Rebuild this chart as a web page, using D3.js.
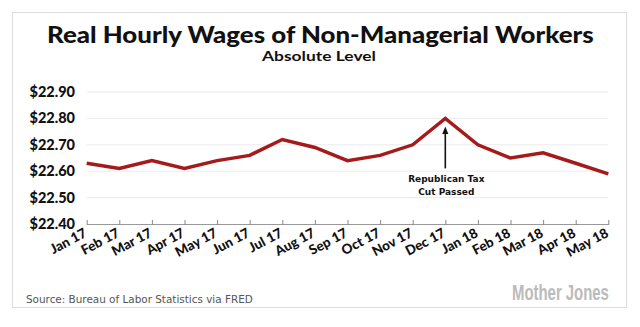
<html>
<head>
    <script src="https://cdn.jsdelivr.net/npm/d3@7/dist/d3.min.js" charset="utf-8"></script>
    <style>
        body { margin: 0; background: #fff; }
    </style>
</head>
<body>
    <script type="text/javascript">
        var width = 640;
        var height = 327;

        // Monthly real hourly wages, Jan 2017 - May 2018
        const months = ["Jan 17", "Feb 17", "Mar 17", "Apr 17", "May 17", "Jun 17", "Jul 17", "Aug 17",
            "Sep 17", "Oct 17", "Nov 17", "Dec 17", "Jan 18", "Feb 18", "Mar 18", "Apr 18", "May 18"];
        const wages = [22.63, 22.61, 22.64, 22.61, 22.64, 22.66, 22.72, 22.69,
            22.64, 22.66, 22.70, 22.80, 22.70, 22.65, 22.67, 22.63, 22.59];
        const yTicks = [22.40, 22.50, 22.60, 22.70, 22.80, 22.90];
        const noteMonth = "Dec 17";
        const noteLines = ["Republican Tax", "Cut Passed"];

        var margin = { top: 92, right: 32, bottom: 103, left: 87 };

        const svg = d3.select("body").append("svg")
            .attr("width", width)
            .attr("height", height);

        // outer frame
        svg.append("rect")
            .attr("x", 12.5).attr("y", 12.5)
            .attr("width", 614).attr("height", 295)
            .attr("fill", "none")
            .attr("stroke", "#dcdcdc");

        const xScale = d3.scalePoint()
            .domain(months)
            .range([margin.left - 0.3, width - margin.right + 0.3]);

        const yScale = d3.scaleLinear()
            .domain([22.40, 22.90])
            .range([height - margin.bottom, margin.top]);

        // stretch/squeeze a text horizontally so it spans `w` pixels from x
        function fitText(sel, x, y, w) {
            const natural = sel.node().getComputedTextLength();
            sel.attr("transform", `translate(${x},${y}) scale(${w / natural},1)`);
            return sel;
        }

        // Title
        fitText(svg.append("text")
            .style("font-family", "Lato")
            .style("font-weight", 900)
            .style("font-size", "23px")
            .attr("fill", "#111")
            .text("Real Hourly Wages of Non-Managerial Workers"), 47, 42.5, 547);

        fitText(svg.append("text")
            .style("font-family", "Lato")
            .style("font-weight", 700)
            .style("font-size", "13.5px")
            .attr("fill", "#111")
            .text("Absolute Level"), 262, 60.5, 114);

        // Gridlines
        svg.append("g")
            .selectAll("line")
            .data(yTicks.slice(1))
            .join("line")
                .attr("x1", xScale.range()[0])
                .attr("x2", xScale.range()[1])
                .attr("y1", d => yScale(d))
                .attr("y2", d => yScale(d))
                .attr("stroke", "#ebebeb")
                .attr("stroke-width", 1);

        // Y axis labels
        svg.append("g")
            .selectAll("text")
            .data(yTicks)
            .join("text")
                .attr("x", 75)
                .attr("y", d => yScale(d) + 5)
                .attr("text-anchor", "end")
                .style("font-family", "Lato")
                .style("font-weight", 900)
                .style("font-size", "14.5px")
                .attr("fill", "#111")
                .text(d => "$" + d.toFixed(2));

        // X axis
        const xAxis = svg.append("g")
            .attr("transform", `translate(0,${yScale(22.40)})`)
            .call(d3.axisBottom(xScale).tickSize(0).tickFormat(""));
        xAxis.select(".domain").attr("stroke", "#999");
        xAxis.selectAll(".tick line")
            .attr("y1", -4).attr("y2", 1)
            .attr("stroke", "#888");

        svg.append("g")
            .selectAll("text")
            .data(months)
            .join("text")
                .attr("transform", d => `translate(${xScale(d) + 1},${yScale(22.40) + 12}) rotate(-28)`)
                .attr("text-anchor", "end")
                .style("font-family", "Lato")
                .style("font-weight", 900)
                .style("font-size", "13.5px")
                .attr("fill", "#111")
                .text(d => d);

        // Wage line
        const line = d3.line()
            .x((d, i) => xScale(months[i]))
            .y(d => yScale(d));

        svg.append("path")
            .datum(wages)
            .attr("d", line)
            .attr("fill", "none")
            .attr("stroke", "#a51b1b")
            .attr("stroke-width", 3.5)
            .attr("stroke-linejoin", "miter");

        // Annotation arrow
        svg.append("defs").append("marker")
            .attr("id", "arrow")
            .attr("viewBox", "0 0 10 10")
            .attr("refX", 5).attr("refY", 5)
            .attr("markerWidth", 5).attr("markerHeight", 6)
            .attr("orient", "auto")
            .append("path")
                .attr("d", "M0,1 L10,5 L0,9 Z")
                .attr("fill", "#111");

        const nx = xScale(noteMonth);
        const ny = yScale(wages[months.indexOf(noteMonth)]);
        svg.append("line")
            .attr("x1", nx).attr("x2", nx)
            .attr("y1", ny + 50).attr("y2", ny + 12)
            .attr("stroke", "#111")
            .attr("stroke-width", 1.6)
            .attr("marker-end", "url(#arrow)");

        svg.append("g")
            .selectAll("text")
            .data(noteLines)
            .join("text")
                .attr("x", nx + 1)
                .attr("y", (d, i) => ny + 64 + i * 12.5)
                .attr("text-anchor", "middle")
                .style("font-family", "DejaVu Sans")
                .style("font-weight", 700)
                .style("font-size", "9px")
                .attr("fill", "#111")
                .text(d => d);

        // Footer
        fitText(svg.append("text")
            .style("font-family", "DejaVu Sans")
            .style("font-size", "10.5px")
            .attr("fill", "#555")
            .text("Source: Bureau of Labor Statistics via FRED"), 26, 302.5, 227);

        fitText(svg.append("text")
            .style("font-family", "Liberation Sans Narrow, Liberation Sans")
            .style("font-weight", 700)
            .style("font-size", "22px")
            .attr("fill", "#bbb")
            .text("Mother Jones"), 512, 300, 97);
    </script>
</body>
</html>
